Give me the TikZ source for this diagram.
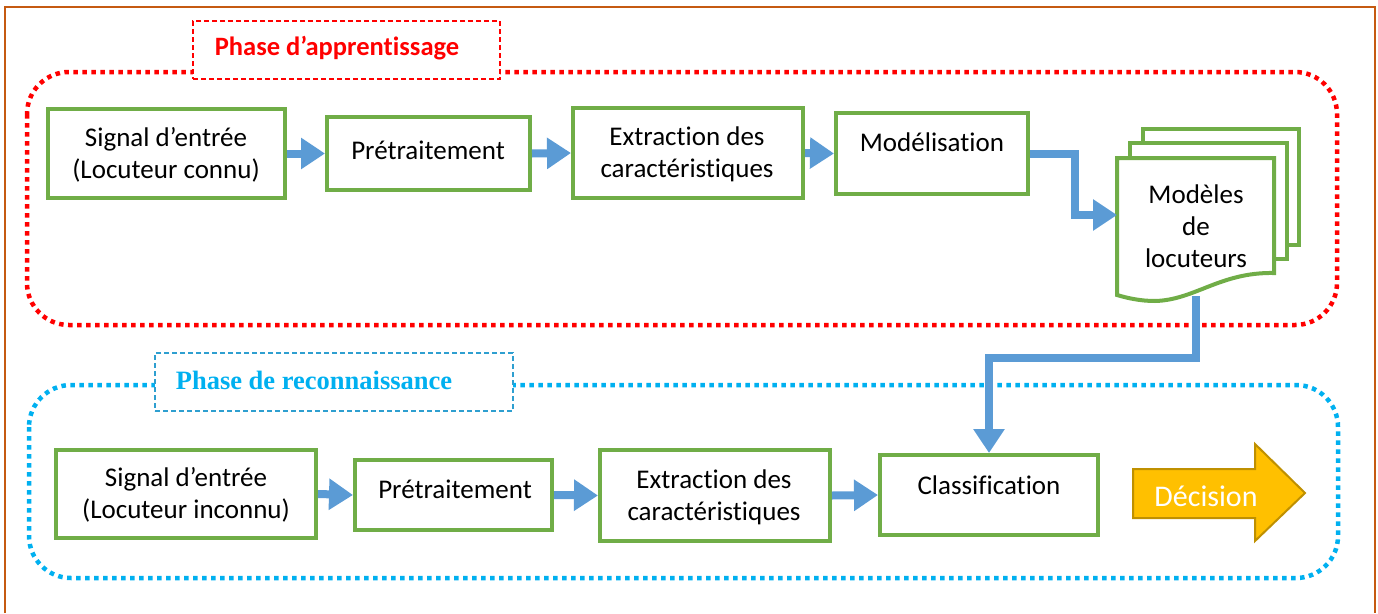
\documentclass[tikz,border=0pt]{standalone}
\usepackage{fontspec}
\setmainfont{Carlito}[Ligatures=NoCommon]
\newfontfamily\sansbold{Carlito}[Ligatures=NoCommon]
\newfontfamily\serifbold{Liberation Serif}
\usetikzlibrary{arrows.meta,calc}
\definecolor{frameorange}{HTML}{C55A11}
\definecolor{boxgreen}{HTML}{70AD47}
\definecolor{flowblue}{HTML}{5B9BD5}
\definecolor{phaseblue}{HTML}{00B0F0}
\definecolor{labelblue}{HTML}{2E9FD0}
\definecolor{decfill}{HTML}{FFC000}
\definecolor{decedge}{HTML}{BF9000}
\tikzset{
  stepbox/.style={draw=boxgreen, line width=4pt, fill=white, inner sep=0pt},
  txt/.style={font=\fontsize{27}{32}\selectfont, align=center, inner sep=0pt},
  flow/.style={draw=flowblue, line width=8pt,
    -{Triangle[length=24pt,width=30pt]}},
  phaseframe/.style={line width=4.5pt, dash pattern=on 4.5pt off 4.5pt, rounded corners=42pt},
  phaselabel/.style={fill=white, line width=1.4pt, dash pattern=on 5pt off 3pt, inner sep=0pt},
  page/.style={draw=boxgreen, line width=4pt, fill=white},
}
\begin{document}
\begin{tikzpicture}[x=1pt,y=-1pt]
\useasboundingbox (0,0) rectangle (1378,613);

% outer frame
\draw[frameorange, line width=2pt] (5,613) -- (5,7) -- (1375,7) -- (1375,613);

% phase frames
\draw[red, phaseframe] (27,72) rectangle (1337,325);
\draw[phaseblue, phaseframe] (29,385) rectangle (1338,578);

% phase titles
\node[phaselabel, draw=red, minimum width=307pt, minimum height=58pt] (t1) at (346.5,50) {};
\node[font=\sansbold\fontsize{26.5}{30}\selectfont\bfseries, text=red] at (337,48) {Phase d’apprentissage};
\node[phaselabel, draw=labelblue, minimum width=358pt, minimum height=58pt] (t2) at (334,382) {};
\node[font=\serifbold\fontsize{26.5}{30}\selectfont\bfseries, text=phaseblue] at (314,380) {Phase de reconnaissance};

% learning row
\node[stepbox, minimum width=237pt, minimum height=89pt] (a1) at (166.5,153.5) {};
\node[txt] at (166,155) {Signal d’entrée\\(Locuteur connu)};
\node[stepbox, minimum width=203pt, minimum height=73pt] (a2) at (428.5,153.5) {};
\node[txt] at (428,150) {Prétraitement};
\node[stepbox, minimum width=230pt, minimum height=90pt] (a3) at (688,153) {};
\node[txt] at (687,154) {Extraction des\\caractéristiques};
\node[stepbox, minimum width=192pt, minimum height=81pt] (a4) at (932,153.5) {};
\node[txt] at (932,142) {Modélisation};

% stack of speaker models
\draw[page] (1143,129) rectangle (1299,245);
\draw[page] (1130,143) rectangle (1287,259);
\draw[page] (1117,158) -- (1274,158) -- (1274,273)
  .. controls (1220,272) and (1195,300) .. (1155,301)
  .. controls (1140,301) and (1127,298) .. (1117,295) -- cycle;
\node[txt] (models) at (1196,226) {Modèles\\de\\locuteurs};
\coordinate (docin) at (1117,215);
\coordinate (docout) at (1196,296);

% recognition row
\node[stepbox, minimum width=260pt, minimum height=88pt] (b1) at (186,494) {};
\node[txt] at (186,495) {Signal d’entrée\\(Locuteur inconnu)};
\node[stepbox, minimum width=197pt, minimum height=70pt] (b2) at (453.5,495) {};
\node[txt] at (455,489) {Prétraitement};
\node[stepbox, minimum width=230pt, minimum height=91pt] (b3) at (715,495.5) {};
\node[txt] at (714,497) {Extraction des\\caractéristiques};
\node[stepbox, minimum width=218pt, minimum height=80pt] (b4) at (989,495) {};
\node[txt] at (989,485) {Classification};

% decision arrow
\draw[decedge, fill=decfill, line width=2pt, line join=miter]
  (1133,469) -- (1255,469) -- (1255,444) -- (1305,493) -- (1255,541)
  -- (1255,518) -- (1133,518) -- cycle;
\node[txt, font=\fontsize{30}{34}\selectfont, text=white] (dec) at (1206,496) {Décision};

% data flow
\draw[flow] (a1.east) -- (a2.west);
\draw[flow] (a2.east) -- (a3.west);
\draw[flow] (a3.east) -- (a4.west);
\draw[flow] (a4.east) -- ++(45,0) |- (docin);
\draw[flow] (docout) -- ++(0,62) -| (b4.north);
\draw[flow] (b1.east) -- (b2.west);
\draw[flow] (b2.east) -- (b3.west);
\draw[flow] (b3.east) -- (b4.west);
\end{tikzpicture}
\end{document}
